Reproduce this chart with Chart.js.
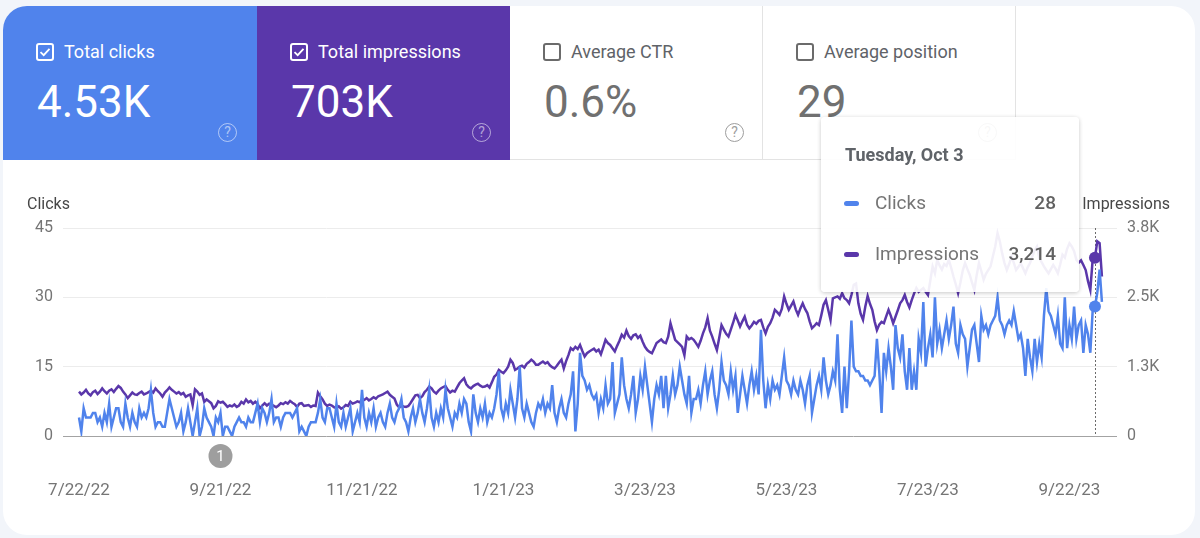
<!DOCTYPE html>
<html>
<head>
<meta charset="utf-8">
<script src="https://cdn.jsdelivr.net/npm/chart.js@4.4.0/dist/chart.umd.min.js"></script>
<style>
  body { margin:0; width:1200px; height:538px; background:#f2f5fa; font-family:Roboto, sans-serif; overflow:hidden; position:relative; }
  .card { position:absolute; left:3px; top:6px; width:1192px; height:529px; background:#fff; border-radius:24px; overflow:hidden; }
  .tile { position:absolute; top:0; height:154px; box-sizing:border-box; color:#fff; }
  .tile.off { color:#5f6368; border-right:1px solid #e3e3e3; border-bottom:1px solid #e3e3e3; }
  .cb { position:absolute; left:33px; top:37px; width:18px; height:18px; box-sizing:border-box; border:2px solid #fff; border-radius:3px; }
  .off .cb { border-color:#6b6b6b; }
  .cb svg { position:absolute; left:0; top:0; }
  .ttl { position:absolute; left:61px; top:36px; font-size:18px; line-height:20px; white-space:nowrap; }
  .val { position:absolute; left:34px; top:74px; font-size:44px; line-height:44px; }
  .off .val { color:#707070; }
  .help { position:absolute; left:215px; top:117px; width:19px; height:19px; box-sizing:border-box; border:1.5px solid rgba(255,255,255,0.55); color:rgba(255,255,255,0.55); border-radius:50%; font-size:14px; line-height:16px; text-align:center; }
  .off .help { border-color:#9e9e9e; color:#9e9e9e; }
  #chartBox { position:absolute; left:0; top:162px; width:1200px; height:376px; }
  #tip { position:absolute; width:258px; height:175px; box-sizing:border-box; background:rgba(255,255,255,0.92);
         box-shadow:0 1px 4px rgba(0,0,0,0.22); border-radius:4px; z-index:10; pointer-events:none; }
  #tip .tt-title { position:absolute; left:24px; top:27px; font-size:18px; line-height:22px; font-weight:700; color:#5f6368; }
  #tip .tt-row { position:absolute; left:23px; right:23px; height:24px; line-height:24px; font-size:19px; color:#757575; }
  #tip .dash { position:absolute; left:0; top:10px; width:15px; height:5px; border-radius:3px; }
  #tip .lab { position:absolute; left:31px; }
  #tip .num { position:absolute; right:0; color:#616161; font-weight:500; }
</style>
</head>
<body>
<div class="card">
  <div class="tile" style="left:0;width:254px;background:#5083ec">
    <div class="cb"><svg width="14" height="14" viewBox="0 0 14 14"><path d="M2.5 7.2 L5.7 10.2 L11.5 3.8" fill="none" stroke="#fff" stroke-width="1.8"/></svg></div>
    <div class="ttl">Total clicks</div>
    <div class="val">4.53K</div>
    <div class="help">?</div>
  </div>
  <div class="tile" style="left:254px;width:253px;background:#5a37aa">
    <div class="cb"><svg width="14" height="14" viewBox="0 0 14 14"><path d="M2.5 7.2 L5.7 10.2 L11.5 3.8" fill="none" stroke="#fff" stroke-width="1.8"/></svg></div>
    <div class="ttl">Total impressions</div>
    <div class="val">703K</div>
    <div class="help">?</div>
  </div>
  <div class="tile off" style="left:507px;width:253px">
    <div class="cb"></div>
    <div class="ttl">Average CTR</div>
    <div class="val">0.6%</div>
    <div class="help">?</div>
  </div>
  <div class="tile off" style="left:760px;width:253px">
    <div class="cb"></div>
    <div class="ttl">Average position</div>
    <div class="val">29</div>
    <div class="help">?</div>
  </div>
</div>
<div id="chartBox"><canvas id="gsc"></canvas></div>

<script>
// daily values, first day 7/22/22
const startDay = '7/22/22';

const clicks = [
  4,1,6,4,4,4,5,5,3,4, 2,5,3,7,2,4,6,6,3,2, 7,4,2,5,3,2,6,4,5,4, 6,10,5,2,3,3,2,2,5,8,
  6,4,2,3,5,1,3,6,3,0, 3,6,0,2,6,4,3,2,0,4, 3,5,0,2,2,1,0,2,3,4, 3,3,2,4,3,3,5,7,3,6,
  5,3,5,8,3,4,4,2,4,5, 5,5,4,5,6,1,2,1,0,2, 3,3,3,5,8,4,3,6,6,4, 2,7,3,2,5,2,4,6,1,3,
  5,3,10,4,2,5,3,6,2,4, 5,3,2,5,7,4,3,5,6,8, 4,3,1,4,6,3,5,8,5,3, 6,10,4,2,5,3,6,4,10,6,
  4,2,5,4,7,5,8,7,3,1, 9,5,3,6,4,7,3,5,4,6, 9,14,6,4,7,5,10,7,4,8, 15,6,4,7,5,3,2,5,7,6,
  8,5,7,6,11,5,3,6,8,5, 4,7,9,14,1,7,18,13,12,10, 11,9,8,9,5,8,6,11,7,8, 16,5,7,9,17,11,8,6,9,13,
  5,8,13,10,15,11,7,3,8,11, 9,13,6,13,6,9,13,9,11,15, 12,9,7,13,5,8,8,10,7,11, 14,9,12,14,9,6,10,16,12,11,
  9,14,10,13,5,9,13,10,7,11, 14,10,13,9,23,12,6,11,8,12, 10,11,9,13,17,12,11,9,12,10, 9,12,10,7,11,13,5,8,11,13,
  10,17,12,9,11,14,12,22,10,5, 15,6,14,25,15,14,14,13,13,12, 12,11,12,13,21,14,5,18,14,19, 15,10,24,19,17,22,14,10,19,10,
  14,10,21,18,29,15,19,22,17,30, 20,23,19,22,25,21,24,28,20,18, 24,22,21,15,19,23,24,20,16,26, 23,24,22,24,25,26,30,25,24,22,
  24,25,24,27,24,21,22,19,13,21, 17,14,21,16,20,17,26,32,27,26, 24,22,26,20,19,30,19,24,21,28, 21,24,25,18,24,22,18,27,28,31,
  36,29
];

const impressions = [
  800,750,783,833,767,733,792,817,758,800, 858,808,767,817,842,792,850,900,867,800,
  750,683,733,783,750,742,775,800,750,767, 792,817,783,858,808,767,708,783,825,875,
  833,800,767,792,750,775,708,733,750,558, 842,800,742,767,617,658,625,592,500,542,
  625,600,617,575,525,550,533,567,525,550, 617,583,658,608,633,583,617,575,500,550,
  592,550,583,567,542,517,550,592,575,608, 583,633,600,575,525,583,592,542,550,558,
  525,550,542,783,717,658,583,542,567,550, 517,508,533,492,517,558,542,617,583,600,
  625,608,658,650,683,642,667,700,675,717, 733,750,775,800,742,708,675,567,517,542,
  533,525,542,600,667,733,742,683,717,792, 833,892,858,800,767,817,858,883,900,833,
  783,817,800,875,950,1000,1042,933,883,858, 900,925,942,908,883,892,917,875,967,1067,
  1108,1192,1158,1133,1183,1250,1375,1317,1192,1217, 1250,1267,1233,1300,1333,1375,1342,1283,1283,1317,
  1342,1308,1333,1275,1242,1217,1267,1325,1375,1217, 1350,1458,1583,1550,1608,1567,1642,1533,1433,1492,
  1525,1550,1575,1525,1558,1475,1600,1733,1675,1642, 1583,1525,1625,1717,1825,1775,1900,1800,1750,1817,
  1833,1767,1808,1700,1608,1550,1517,1492,1583,1675, 1708,1742,1692,1675,1792,2033,1883,1733,1692,1650,
  1608,1458,1792,1742,1767,1733,1675,1608,1717,1850, 1958,2125,1900,1792,1667,1550,1767,2000,1917,1842,
  1792,1917,2042,2183,2083,1975,2067,2150,2008,1942, 1992,2058,2025,2075,2092,1958,1850,1967,2033,2133,
  2275,2233,2183,2292,2517,2383,2275,2350,2425,2283, 2183,2300,2392,2292,2217,2067,1942,1983,2033,2000,
  2175,2367,2450,2275,2092,2483,2500,2517,2475,2575, 2483,2450,2392,2542,2725,2750,2392,2200,2092,2333,
  2525,2383,2275,2067,1908,2008,2058,2033,2158,2275, 2167,2033,2150,2267,2392,2450,2542,2417,2317,2450,
  2567,2667,2600,2633,2667,2600,2542,2800,3058,2933, 3175,3075,3000,3100,3067,3175,3033,2875,2733,2575,
  2767,2983,3117,3008,2908,2767,2633,2900,3117,2975, 2817,2925,2992,3058,3242,3417,3658,3508,3292,3117,
  2992,3100,3233,3125,2992,3050,3117,3025,2933,3042, 3117,3242,3350,3417,3208,3133,3058,2992,2933,3008,
  3083,3017,2933,3092,3267,3217,3375,3475,3417,3333, 3175,3125,3167,3083,2992,2792,2633,3175,3214,3508,
  3475,2875
];

const xTickLabels = ['7/22/22', '9/21/22', '11/21/22', '1/21/23', '3/23/23', '5/23/23', '7/23/23', '9/22/23'];
const clickTicks = [0, 15, 30, 45];
const impTicks = [0, 1250, 2500, 3750];
const impTickLabels = ['0', '1.3K', '2.5K', '3.8K'];
const hoverDay = 'Oct 3, 2023';
const notes = [{ day: '9/21/22', text: '1' }];

const BLUE = '#5083ec';
const PURPLE = '#5a37aa';
const DAY = 86400000;

function parseMdy(s) {
  const p = s.split('/').map(Number);
  return Date.UTC(2000 + p[2], p[0] - 1, p[1]);
}
const t0 = parseMdy(startDay);
const dayIndex = s => Math.round((parseMdy(s) - t0) / DAY);
const xTickIdx = xTickLabels.map(dayIndex);
const hoverIdx = Math.round((Date.parse(hoverDay + ' UTC') - t0) / DAY);

function dayTitle(i) {
  return new Date(t0 + i * DAY).toLocaleDateString('en-US', { timeZone: 'UTC', weekday: 'long', month: 'short', day: 'numeric' });
}

// html tooltip like search console
function externalTip(context) {
  const tt = context.tooltip;
  let el = document.getElementById('tip');
  if (!el) {
    el = document.createElement('div');
    el.id = 'tip';
    document.body.appendChild(el);
  }
  if (tt.opacity === 0 || !tt.dataPoints || !tt.dataPoints.length) { el.style.display = 'none'; return; }
  el.style.display = 'block';
  const i = tt.dataPoints[0].dataIndex;
  let html = '<div class="tt-title">' + dayTitle(i) + '</div>';
  tt.dataPoints.forEach((dp, k) => {
    html += '<div class="tt-row" style="top:' + (74 + k * 51) + 'px">' +
      '<span class="dash" style="background:' + dp.dataset.borderColor + '"></span>' +
      '<span class="lab">' + dp.dataset.label + '</span>' +
      '<span class="num">' + dp.raw.y.toLocaleString('en-US') + '</span></div>';
  });
  el.innerHTML = html;
  const box = context.chart.canvas.getBoundingClientRect();
  el.style.left = (box.left + tt.caretX - 274) + 'px';
  el.style.top = '117px';
}

const extras = {
  id: 'extras',
  beforeDatasetsDraw(chart) {
    const act = chart.getActiveElements();
    if (!act.length) return;
    const ctx = chart.ctx, a = chart.chartArea, x = Math.round(act[0].element.x) + 0.5;
    ctx.save();
    ctx.strokeStyle = '#6b6b6b';
    ctx.lineWidth = 1;
    ctx.setLineDash([2, 2]);
    ctx.beginPath();
    ctx.moveTo(x, a.top);
    ctx.lineTo(x, a.bottom);
    ctx.stroke();
    ctx.restore();
  },
  afterDraw(chart) {
    const ctx = chart.ctx, a = chart.chartArea, xs = chart.scales.x;
    ctx.save();
    ctx.font = '16px Roboto';
    ctx.fillStyle = '#474747';
    ctx.textBaseline = 'middle';
    ctx.textAlign = 'left';
    ctx.fillText('Clicks', chart.scales.y.left + 27, a.top - 23);
    ctx.textAlign = 'right';
    ctx.fillText('Impressions', chart.scales.y1.left + 53, a.top - 23);
    notes.forEach(n => {
      const x = xs.getPixelForValue(dayIndex(n.day)), y = a.bottom + 20;
      ctx.beginPath();
      ctx.arc(x, y, 12, 0, Math.PI * 2);
      ctx.fillStyle = '#9e9e9e';
      ctx.fill();
      ctx.fillStyle = '#fff';
      ctx.textAlign = 'center';
      ctx.font = '15px Roboto';
      ctx.fillText(n.text, x, y + 1);
    });
    ctx.restore();
  }
};

Chart.defaults.font.family = 'Roboto';

const chart = new Chart(document.getElementById('gsc'), {
  type: 'line',
  data: {
    datasets: [
      { label: 'Clicks', yAxisID: 'y', data: clicks.map((v, i) => ({ x: i, y: v })),
        borderColor: BLUE, backgroundColor: BLUE, borderWidth: 2.5, pointRadius: 0,
        pointHoverRadius: 6, pointHoverBorderWidth: 0, pointHoverBackgroundColor: BLUE },
      { label: 'Impressions', yAxisID: 'y1', data: impressions.map((v, i) => ({ x: i, y: v })),
        borderColor: PURPLE, backgroundColor: PURPLE, borderWidth: 2.5, pointRadius: 0,
        pointHoverRadius: 6, pointHoverBorderWidth: 0, pointHoverBackgroundColor: PURPLE }
    ]
  },
  options: {
    responsive: true,
    maintainAspectRatio: false,
    animation: false,
    events: [],
    layout: { padding: { top: 66, left: 0, right: 0, bottom: 0 } },
    interaction: { mode: 'index', intersect: false },
    plugins: {
      legend: { display: false },
      tooltip: { enabled: false, external: externalTip }
    },
    scales: {
      x: {
        type: 'linear', min: -6.9, max: 447.5,
        grid: { display: false, drawTicks: false },
        border: { display: false },
        afterBuildTicks: s => { s.ticks = xTickIdx.map(v => ({ value: v })); },
        afterFit: s => { s.height = 102; },
        ticks: { autoSkip: false, maxRotation: 0, padding: 45, color: '#757575', font: { size: 17 },
                 callback: (v, i) => xTickLabels[i] }
      },
      y: {
        position: 'left', min: 0, max: 45,
        afterBuildTicks: s => { s.ticks = clickTicks.map(v => ({ value: v })); },
        afterFit: s => { s.width = 63; },
        grid: { drawTicks: false, color: c => c.tick.value === 0 ? '#a3a3a3' : '#ececec' },
        border: { display: false },
        ticks: { padding: 10, color: '#757575', font: { size: 16 } }
      },
      y1: {
        position: 'right', min: 0, max: 3750,
        afterBuildTicks: s => { s.ticks = impTicks.map(v => ({ value: v })); },
        afterFit: s => { s.width = 83; },
        grid: { display: false, drawTicks: false },
        border: { display: false },
        ticks: { padding: 10, color: '#757575', font: { size: 16 },
                 callback: (v, i) => impTickLabels[i] }
      }
    }
  },
  plugins: [extras]
});

const active = [{ datasetIndex: 0, index: hoverIdx }, { datasetIndex: 1, index: hoverIdx }];
chart.setActiveElements(active);
chart.tooltip.setActiveElements(active, { x: chart.scales.x.getPixelForValue(hoverIdx), y: 150 });
chart.update();
</script>
</body>
</html>
